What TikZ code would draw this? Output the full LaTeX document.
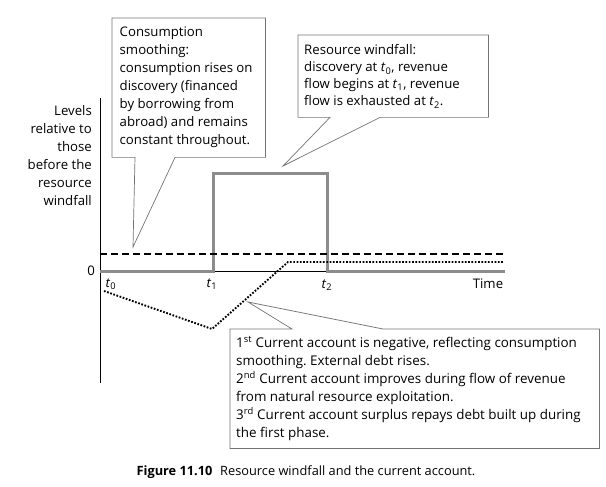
\documentclass[tikz,border=0pt]{standalone}
\usepackage{fontspec}
\setmainfont{Open Sans}
\usetikzlibrary{calc}
\frenchspacing
\tikzset{
  txt/.style={font=\fontsize{13.2}{18}\selectfont, inner sep=0pt},
  boxtxt/.style={txt, align=flush left, anchor=north west, inner ysep=0pt},
  callout/.style={draw=black!55, line width=0.7pt, line join=miter},
  axisline/.style={draw=black, line width=0.8pt},
  flow/.style={draw=black!45, line width=3pt},
  cons/.style={draw=black, line width=1.3pt, dash pattern=on 7pt off 4pt},
  ca/.style={draw=black, line width=1.9pt, dash pattern=on 1.7pt off 1.6pt},
}
\begin{document}
\begin{tikzpicture}[x=1pt,y=-1pt]
\useasboundingbox (0,0) rectangle (606,487);
% axes
\draw[axisline] (100,98) -- (100,383);
\draw[axisline] (100,271) -- (505,271);
% resource flow
\draw[flow] (100,271) -- (213,271) -- (213,173) -- (327,173) -- (327,271) -- (505,271);
% consumption
\draw[cons] (100,254) -- (503,254);
% current account
\draw[ca] (104,291) -- (212,329) -- (288,262) -- (503,262);
% labels
\node[txt, anchor=east] (zero) at (95,271) {0};
\node[txt] (t0) at (111,284) {\textit{t}\textsubscript{0}};
\node[txt] (t1) at (212,284) {\textit{t}\textsubscript{1}};
\node[txt] (t2) at (327,285) {\textit{t}\textsubscript{2}};
\node[txt] (time) at (488,284) {Time};
\node[txt, align=right, anchor=east] (ylab) at (92,156) {Levels\\relative to\\those\\before the\\resource\\windfall};
% callout boxes
\node[boxtxt, inner xsep=7.5pt, text width=138pt, minimum height=139pt] (b1) at (112,18) {Consumption\\smoothing:\\consumption rises on\\discovery (financed\\by borrowing from\\abroad) and remains\\constant throughout.};
\coordinate (p1) at (133,247);
\draw[callout] (135,0 |- b1.south) -- (b1.south west) -- (b1.north west) -- (b1.north east) -- (b1.south east) -- (175,0 |- b1.south) -- (p1) -- cycle;
\node[boxtxt, inner xsep=6pt, text width=178pt, minimum height=82pt, font=\fontsize{13.2}{17}\selectfont] (b2) at (298,35) {Resource windfall:\\discovery at \textit{t}\textsubscript{0}, revenue\\flow begins at \textit{t}\textsubscript{1}, revenue\\flow is exhausted at \textit{t}\textsubscript{2}.};
\coordinate (p2) at (283,166);
\draw[callout] (330,0 |- b2.south) -- (b2.south west) -- (b2.north west) -- (b2.north east) -- (b2.south east) -- (380,0 |- b2.south) -- (p2) -- cycle;
\node[boxtxt, inner xsep=6pt, text width=357pt, minimum height=119pt, font=\fontsize{13.4}{18}\selectfont] (b3) at (230,329) {1\textsuperscript{st} Current account is negative, reflecting consumption\\smoothing. External debt rises.\\2\textsuperscript{nd} Current account improves during flow of revenue\\from natural resource exploitation.\\3\textsuperscript{rd} Current account surplus repays debt built up during\\the first phase.};
\coordinate (p3) at (248,302);
\draw[callout] (383,0 |- b3.north) -- (b3.north east) -- (b3.south east) -- (b3.south west) -- (b3.north west) -- (292,0 |- b3.north) -- (p3) -- cycle;
% caption
\node[txt, font=\fontsize{12.8}{16}\selectfont] (cap) at (306,472) {\textbf{Figure 11.10}\hspace{0.6em}Resource windfall and the current account.};
\end{tikzpicture}
\end{document}
